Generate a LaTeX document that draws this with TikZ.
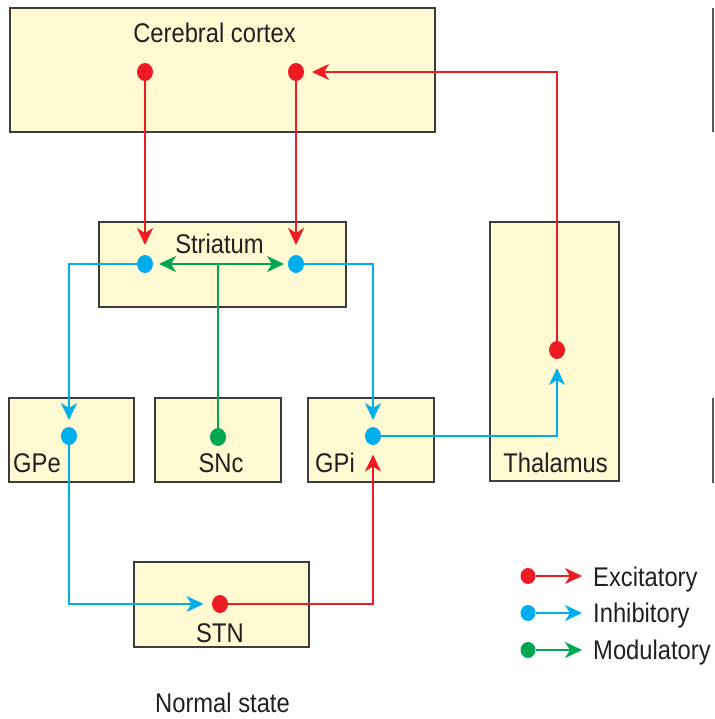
\documentclass[tikz,border=0pt]{standalone}
\usepackage{fontspec}
\setmainfont{Liberation Sans}[FakeStretch=0.88]
\usetikzlibrary{arrows.meta,shapes.geometric}
\definecolor{exred}{RGB}{237,28,36}
\definecolor{inblue}{RGB}{0,174,239}
\definecolor{mogreen}{RGB}{0,166,81}
\definecolor{boxfill}{RGB}{255,250,210}
\definecolor{boxline}{RGB}{60,60,60}
\definecolor{txt}{RGB}{35,31,32}
\tikzset{
  box/.style={draw=boxline, line width=1.6pt, fill=boxfill, rectangle, inner sep=0pt, outer sep=0pt},
  lbl/.style={text=txt, font=\fontsize{27}{32}\selectfont, inner sep=0pt},
  dot/.style={ellipse, inner sep=0pt, outer sep=0pt, minimum width=16pt, minimum height=18pt},
  rdot/.style={dot, fill=exred},
  bdot/.style={dot, fill=inblue},
  gdot/.style={dot, fill=mogreen},
  tip/.style={-{Stealth[length=17pt,width=16pt,inset=5pt]}},
  exc/.style={draw=exred, line width=2pt, tip},
  inh/.style={draw=inblue, line width=2pt, tip},
  mod/.style={draw=mogreen, line width=2pt},
  edgeline/.style={draw=boxline!85!white, line width=2pt}
}
\begin{document}
\begin{tikzpicture}[x=1pt,y=-1pt]
\useasboundingbox (0,0) rectangle (714,719);
% boxes
\node[box, minimum width=425pt, minimum height=124pt] (cortex) at (222.5,70) {};
\node[box, minimum width=247pt, minimum height=85pt] (striatum) at (222.5,264.5) {};
\node[box, minimum width=129pt, minimum height=259pt] (thalamus) at (554.5,351.5) {};
\node[box, minimum width=125pt, minimum height=84pt] (gpebox) at (71.5,440) {};
\node[box, minimum width=126pt, minimum height=84pt] (sncbox) at (218,440) {};
\node[box, minimum width=126pt, minimum height=84pt] (gpibox) at (371,440) {};
\node[box, minimum width=175pt, minimum height=85pt] (stnbox) at (221.5,604.5) {};
% edges of neighbouring panel
\draw[edgeline] (712.5,8) -- (712.5,132);
\draw[edgeline] (712.5,398) -- (712.5,483);
% labels
\node[lbl, anchor=base] (tcortex) at (214.5,43) {Cerebral cortex};
\node[lbl, anchor=base] (tstriatum) at (219.5,253) {Striatum};
\node[lbl, anchor=base] (tthal) at (555.5,472) {Thalamus};
\node[lbl, anchor=base west] (tgpe) at (13,472) {GPe};
\node[lbl, anchor=base] (tsnc) at (221,472) {SNc};
\node[lbl, anchor=base west] (tgpi) at (315,472) {GPi};
\node[lbl, anchor=base] (tstn) at (220,642) {STN};
\node[lbl, anchor=base] (tnormal) at (222.5,712) {Normal state};
% dots
\node[rdot] (cd1) at (145,72) {};
\node[rdot] (cd2) at (296,72) {};
\node[bdot] (sd1) at (145,264) {};
\node[bdot] (sd2) at (296,264) {};
\node[bdot] (gpe) at (69,436) {};
\node[gdot] (snc) at (218,437) {};
\node[bdot] (gpi) at (373,436) {};
\node[rdot] (th) at (557,350) {};
\node[rdot] (stn) at (220,604) {};
\coordinate (junc) at (218,264);
% connectors
\draw[exc, shorten >=10pt] (cd1) -- (sd1);
\draw[exc, shorten >=10pt] (cd2) -- (sd2);
\draw[exc, shorten >=8pt] (th) |- (cd2);
\draw[inh, shorten >=7pt] (sd1) -| (gpe);
\draw[inh, shorten >=7pt] (sd2) -| (gpi);
\draw[inh, shorten >=9pt] (gpi) -| (th);
\draw[inh, shorten >=8.5pt] (gpe) |- (stn);
\draw[exc, shorten >=9.5pt] (stn) -| (gpi);
\draw[mod] (snc) -- (junc);
\draw[mod, {Stealth[length=17pt,width=16pt,inset=5pt]}-{Stealth[length=17pt,width=16pt,inset=5pt]}, shorten <=6pt, shorten >=4pt] (sd1) -- (sd2);
% legend
\node[rdot, minimum width=15pt, minimum height=16pt] (lr) at (528,576) {};
\node[bdot, minimum width=15pt, minimum height=16pt] (lb) at (528,613) {};
\node[gdot, minimum width=15pt, minimum height=16pt] (lg) at (528,650) {};
\coordinate (lre) at (582,576);
\coordinate (lbe) at (582,613);
\coordinate (lge) at (582,650);
\draw[exc] (lr) -- (lre);
\draw[inh] (lb) -- (lbe);
\draw[mod, tip] (lg) -- (lge);
\node[lbl, anchor=base west] (tex) at (593,586) {Excitatory};
\node[lbl, anchor=base west] (tin) at (593,622) {Inhibitory};
\node[lbl, anchor=base west] (tmo) at (593,659) {Modulatory};
\end{tikzpicture}
\end{document}
